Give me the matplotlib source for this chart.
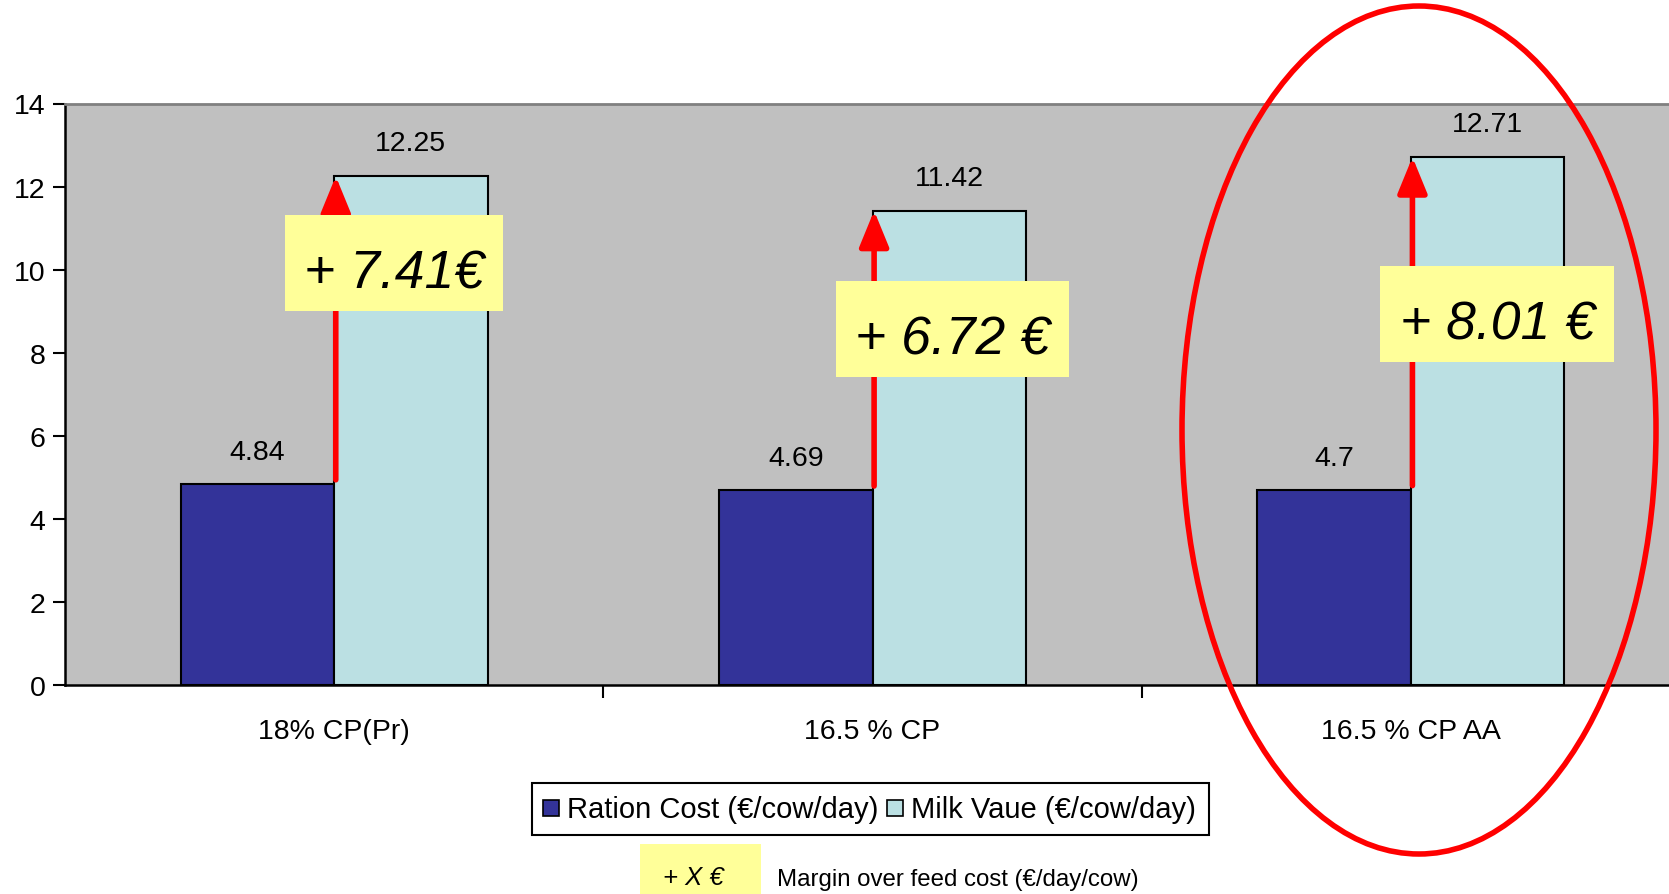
import matplotlib
matplotlib.use("Agg")
import matplotlib.pyplot as plt
from matplotlib.patches import Rectangle, Ellipse

plt.rcParams['font.family'] = ['Liberation Sans', 'DejaVu Sans']

categories = ["18% CP(Pr)", "16.5 % CP", "16.5 % CP AA"]
ration_cost = [4.84, 4.69, 4.7]
milk_value = [12.25, 11.42, 12.71]
margins = ["+ 7.41€", "+ 6.72 €", "+ 8.01 €"]
series_names = ["Ration Cost (€/cow/day)", "Milk Vaue (€/cow/day)"]
yticks = [0, 2, 4, 6, 8, 10, 12, 14]

DARK = "#333399"
LIGHT = "#BBE0E3"
YELLOW = "#FFFF99"

W, H = 1669, 895
fig = plt.figure(figsize=(W / 100, H / 100), dpi=100)
fig.patch.set_facecolor("white")

ax = fig.add_axes([65 / W, (H - 686) / H, (1680 - 65) / W, (686 - 104.5) / H])
ax.set_facecolor("#C0C0C0")
bw = 0.285
xs = list(range(len(categories)))
ax.bar([x - bw / 2 for x in xs], ration_cost, width=bw, color=DARK,
       edgecolor="black", linewidth=1.5, zorder=2)
ax.bar([x + bw / 2 for x in xs], milk_value, width=bw, color=LIGHT,
       edgecolor="black", linewidth=1.5, zorder=2)

for x, v in zip(xs, ration_cost):
    ax.text(x - bw / 2, v + 0.77, f"{v:g}", ha="center", va="center", fontsize=20.5, zorder=3)
for x, v in zip(xs, milk_value):
    ax.text(x + bw / 2, v + 0.79, f"{v:g}", ha="center", va="center", fontsize=20.5, zorder=3)

# red arrows from ration cost to milk value
for x, r, m in zip(xs, ration_cost, milk_value):
    ax.annotate("", xy=(x + 0.003, m), xytext=(x + 0.003, r + 0.1),
                arrowprops=dict(arrowstyle="-|>,head_length=1.1,head_width=0.45",
                                color="red", lw=4, shrinkA=0, shrinkB=0,
                                mutation_scale=20),
                zorder=4)

ax.set_xlim(-0.5, 2.5)
ax.set_ylim(0, 14)
ax.set_yticks(yticks)
ax.tick_params(axis="y", direction="out", length=9, width=1.5, labelsize=20.5, pad=5)
ax.set_xticks(xs)
ax.set_xticklabels(categories, fontsize=20.5)
ax.set_xticks([0.5, 1.5, 2.5], minor=True)
ax.tick_params(axis="x", which="major", length=0, pad=24)
ax.tick_params(axis="x", which="minor", direction="out", length=9, width=1.5)
for s in ["left", "bottom"]:
    ax.spines[s].set_linewidth(1.8)
    ax.spines[s].set_color("black")
ax.spines["top"].set_color("#808080")
ax.spines["top"].set_linewidth(2)
ax.spines["right"].set_visible(False)

# overlay in pixel coords
ov = fig.add_axes([0, 0, 1, 1], zorder=10)
ov.set_xlim(0, W)
ov.set_ylim(H, 0)
ov.axis("off")
ov.patch.set_alpha(0)

boxes = [(285, 216, 218, 96), (836, 282, 233, 96), (1380, 267, 234, 96)]
for (bx, by, bwid, bh), txt in zip(boxes, margins):
    ov.add_patch(Rectangle((bx, by), bwid, bh, facecolor=YELLOW, edgecolor="none"))
    ov.text(bx + bwid / 2, by + bh / 2 + 10, txt, ha="center", va="center",
            fontsize=38.5, style="italic")

# highlight ellipse
ov.add_patch(Ellipse((1419, 431), 474, 848, fill=False, edgecolor="red", linewidth=4))

# legend
ov.add_patch(Rectangle((532, 784), 677, 52, facecolor="white", edgecolor="black", linewidth=1.5))
ov.add_patch(Rectangle((543, 801), 16, 16, facecolor=DARK, edgecolor="black", linewidth=1.2))
ov.text(567, 810, series_names[0], ha="left", va="center", fontsize=21)
ov.add_patch(Rectangle((887, 801), 16, 16, facecolor=LIGHT, edgecolor="black", linewidth=1.2))
ov.text(911, 810, series_names[1], ha="left", va="center", fontsize=21)

# key for margin boxes
ov.add_patch(Rectangle((640, 845), 121, 55, facecolor=YELLOW, edgecolor="none"))
ov.text(693, 878, "+ X €", ha="center", va="center", fontsize=18.5, style="italic")
ov.text(777, 880, "Margin over feed cost (€/day/cow)", ha="left", va="center", fontsize=17.3)

fig.savefig("out.png", dpi=100)
